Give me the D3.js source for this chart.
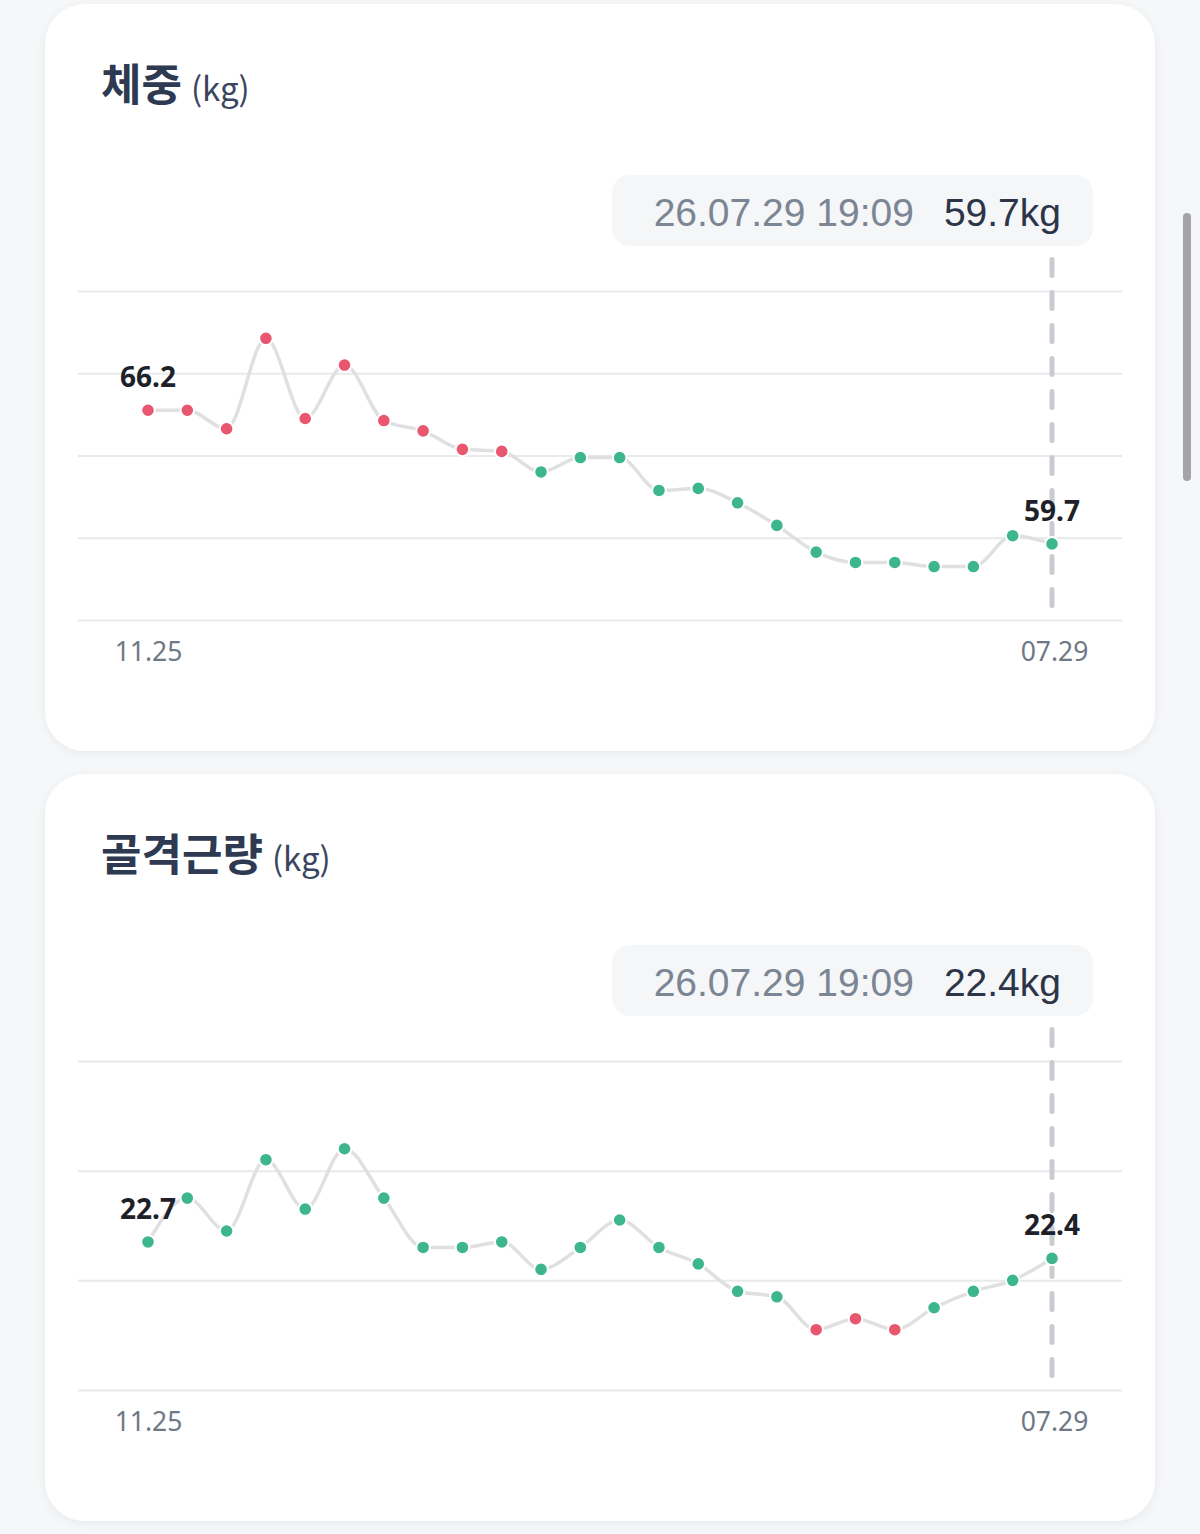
<!DOCTYPE html>
<html>
<head>
<meta charset="utf-8">
<script src="https://cdn.jsdelivr.net/npm/d3@7"></script>
<style>
  html, body { margin: 0; padding: 0; background: #f6f7f9; }
  svg { display: block; }
</style>
</head>
<body>
<svg id="chart" width="1200" height="1534"></svg>
<script>
// ---- data ----
const weightValues = [66.2, 66.2, 65.3, 69.7, 65.8, 68.4, 65.7, 65.2, 64.3, 64.2, 63.2, 63.9,
                      63.9, 62.3, 62.4, 61.7, 60.6, 59.3, 58.8, 58.8, 58.6, 58.6, 60.1, 59.7];
const muscleValues = [22.7, 23.5, 22.9, 24.2, 23.3, 24.4, 23.5, 22.6, 22.6, 22.7, 22.2, 22.6,
                      23.1, 22.6, 22.3, 21.8, 21.7, 21.1, 21.3, 21.1, 21.5, 21.8, 22.0, 22.4];
const weightTicks = [56, 60, 64, 68, 72];
const muscleTicks = [20, 22, 24, 26];
const xTickLabels = ["11.25", "07.29"];
const tooltipDate = "26.07.29 19:09";
const charts = [
  { title: "체중", unit: "(kg)", values: weightValues, ticks: weightTicks, domain: [56, 72],
    bad: v => v > 64, tooltip: "59.7kg" },
  { title: "골격근량", unit: "(kg)", values: muscleValues, ticks: muscleTicks, domain: [20, 26],
    bad: v => v < 21.4, tooltip: "22.4kg" }
];

// ---- drawing ----
const svg = d3.select("#chart");
const defs = svg.append("defs");
const f = defs.append("filter").attr("id", "shadow").attr("x", "-5%").attr("y", "-5%")
  .attr("width", "110%").attr("height", "110%");
f.append("feDropShadow").attr("dx", 0).attr("dy", 2).attr("stdDeviation", 5)
  .attr("flood-color", "#000").attr("flood-opacity", 0.06);

const RED = "#e9566f", GREEN = "#3db68e";
const cardTops = [4, 774];

charts.forEach((c, ci) => {
  const top = cardTops[ci];
  const g = svg.append("g").attr("transform", `translate(0,${top})`);
  g.append("rect").attr("x", 45).attr("y", 0).attr("width", 1110).attr("height", 747)
    .attr("rx", 40).attr("fill", "#fff").attr("filter", "url(#shadow)");

  // title
  const t = g.append("text").attr("x", 101).attr("y", 97)
    .attr("font-family", "'Noto Sans CJK KR', 'Noto Sans', sans-serif");
  t.append("tspan").attr("font-size", 44).attr("font-weight", 700).attr("fill", "#2e3a52").text(c.title);
  t.append("tspan").attr("font-size", 33).attr("font-weight", 400).attr("fill", "#3a4560").attr("dx", 9).text(c.unit);

  const y = d3.scaleLinear().domain(c.domain).range([616, 287]);
  const x = d3.scaleLinear().domain([0, c.values.length - 1]).range([148, 1052]);

  // grid via axis
  const grid = g.append("g").attr("transform", "translate(78,0)")
    .call(d3.axisLeft(y).tickValues(c.ticks).tickSize(-1044).tickFormat(""));
  grid.select(".domain").remove();
  grid.selectAll(".tick line").attr("stroke", "#e8e9ec").attr("stroke-width", 2);

  // x labels via axis
  const xa = g.append("g").attr("transform", "translate(0,616)")
    .call(d3.axisBottom(x).tickValues([0, c.values.length - 1])
      .tickFormat((d, i) => xTickLabels[i]).tickSize(0).tickPadding(22));
  xa.select(".domain").remove();
  xa.selectAll("text").attr("font-family", "'Noto Sans', sans-serif").attr("font-size", 26.5)
    .attr("fill", "#6f7885").attr("dy", "0.71em");
  xa.selectAll(".tick").filter((d, i) => i === 1).select("text").attr("dx", 2);

  // tooltip
  g.append("rect").attr("x", 612).attr("y", 171).attr("width", 481).attr("height", 71)
    .attr("rx", 18).attr("fill", "#f4f6f8");
  const tt = g.append("text").attr("x", 1061).attr("y", 222).attr("text-anchor", "end")
    .attr("font-family", "'Liberation Sans', Arial, sans-serif").attr("font-size", 39);
  tt.append("tspan").attr("fill", "#7b8593").text(tooltipDate);
  tt.append("tspan").attr("fill", "#2c3548").attr("dx", 30).text(c.tooltip);

  // dashed vertical line
  const lx = x(c.values.length - 1);
  g.append("line").attr("x1", lx).attr("x2", lx).attr("y1", 255.5).attr("y2", 606)
    .attr("stroke", "#c8cbd0").attr("stroke-width", 5).attr("stroke-linecap", "round")
    .attr("stroke-dasharray", "16,17");

  // line
  const line = d3.line().x((d, i) => x(i)).y(d => y(d)).curve(d3.curveMonotoneX);
  g.append("path").datum(c.values).attr("d", line).attr("fill", "none")
    .attr("stroke", "#e0e0e2").attr("stroke-width", 3.5);

  // dots
  g.selectAll("circle.dot").data(c.values).join("circle").attr("class", "dot")
    .attr("cx", (d, i) => x(i)).attr("cy", d => y(d)).attr("r", 6.8)
    .attr("fill", d => c.bad(d) ? RED : GREEN).attr("stroke", "#fff").attr("stroke-width", 2);

  // first/last labels
  const ends = [0, c.values.length - 1];
  g.selectAll("text.vlabel").data(ends).join("text").attr("class", "vlabel")
    .attr("x", i => x(i)).attr("y", i => y(c.values[i]) - 23).attr("text-anchor", "middle")
    .attr("font-family", "'Noto Sans', sans-serif").attr("font-size", 28).attr("font-weight", 700)
    .attr("fill", "#1d2129").text(i => c.values[i].toFixed(1));
});

// scrollbar
svg.append("rect").attr("x", 1183).attr("y", 213).attr("width", 8).attr("height", 268)
  .attr("rx", 4).attr("fill", "#a4a4a8");
</script>
</body>
</html>
